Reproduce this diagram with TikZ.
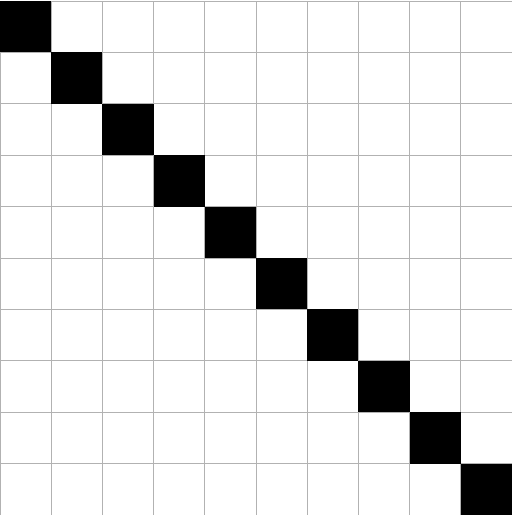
\documentclass[tikz,border=0pt]{standalone}
\begin{document}
\begin{tikzpicture}[x=1pt,y=1pt,
  gridline/.style={draw=black!30,line width=0.9pt},
  cellfill/.style={fill=black}]
\useasboundingbox (0,0) rectangle (512,515);
\fill[white] (0,0) rectangle (512,515);
\foreach \i in {0,...,10}{
  \draw[gridline] (\i*51.2,0) -- (\i*51.2,514);
  \draw[gridline] (0,\i*51.4) -- (512,\i*51.4);
}
\foreach \i in {0,...,9}{
  \fill[cellfill] (\i*51.2,514-\i*51.4) rectangle ({(\i+1)*51.2},{514-(\i+1)*51.4});
}
\end{tikzpicture}
\end{document}
